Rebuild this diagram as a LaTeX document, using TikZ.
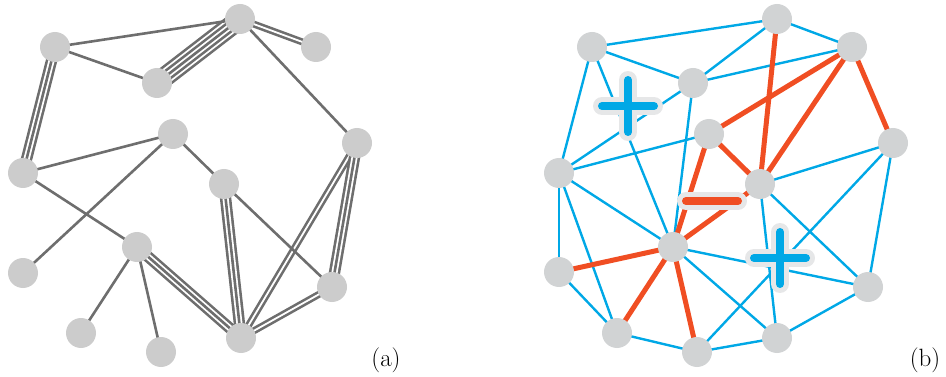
\documentclass[tikz,border=0pt]{standalone}
\definecolor{eg}{HTML}{6E6E6E}
\definecolor{nodeA}{HTML}{CCCCCC}
\definecolor{nodeB}{HTML}{D1D3D4}
\definecolor{eblue}{HTML}{00A8E6}
\definecolor{ered}{HTML}{F04E23}
\definecolor{halo}{HTML}{E6E7E8}
\pgfdeclarelayer{bg}
\pgfsetlayers{bg,main}
\begin{document}
\begin{tikzpicture}[x=1pt,y=-1pt,
  vtxa/.style={circle,fill=nodeA,minimum size=30pt,inner sep=0pt},
  vtxb/.style={circle,fill=nodeB,minimum size=30pt,inner sep=0pt},
  s1/.style={draw=eg,line width=2.6pt},
  s2/.style={draw=eg,line width=7.0pt,postaction={draw=white,line width=1.8pt}},
  s3/.style={draw=eg,line width=11.4pt,postaction={draw=white,line width=6.2pt},postaction={draw=eg,line width=2.6pt}},
  s5/.style={draw=eg,line width=20.2pt,postaction={draw=white,line width=15.0pt},postaction={draw=eg,line width=11.4pt},postaction={draw=white,line width=6.2pt},postaction={draw=eg,line width=2.6pt}},
  bl/.style={draw=eblue,line width=2.4pt},
  rd/.style={draw=ered,line width=5pt},
  halostroke/.style={draw=halo,line width=18pt,line cap=round},
  signstroke/.style={line width=8pt,line cap=round},
  lbl/.style={font=\fontsize{25}{30}\selectfont,anchor=base,inner sep=0pt}
]
\useasboundingbox (0,0) rectangle (946,377);
% panel (a) nodes
\node[vtxa] (a1) at (55,47) {};
\node[vtxa] (a2) at (240,19) {};
\node[vtxa] (a3) at (316,47) {};
\node[vtxa] (a4) at (157,83) {};
\node[vtxa] (a5) at (173,134) {};
\node[vtxa] (a6) at (23,173) {};
\node[vtxa] (a7) at (357,143) {};
\node[vtxa] (a8) at (224,184) {};
\node[vtxa] (a9) at (137,247) {};
\node[vtxa] (a10) at (23,273) {};
\node[vtxa] (a11) at (332,287) {};
\node[vtxa] (a12) at (81,333) {};
\node[vtxa] (a13) at (161,352) {};
\node[vtxa] (a14) at (241,338) {};
% panel (b) nodes
\node[vtxb] (b1) at (592,47) {};
\node[vtxb] (b2) at (777,19) {};
\node[vtxb] (b3) at (852,47) {};
\node[vtxb] (b4) at (693,83) {};
\node[vtxb] (b5) at (709,134) {};
\node[vtxb] (b6) at (559,173) {};
\node[vtxb] (b7) at (893,143) {};
\node[vtxb] (b8) at (760,184) {};
\node[vtxb] (b9) at (673,247) {};
\node[vtxb] (b10) at (559,272) {};
\node[vtxb] (b11) at (868,287) {};
\node[vtxb] (b12) at (617,333) {};
\node[vtxb] (b13) at (697,352) {};
\node[vtxb] (b14) at (777,338) {};
\begin{pgfonlayer}{bg}
% (a) multi edges
\draw[s5] (a4.center) -- (a2.center);
\draw[s2] (a2.center) -- (a3.center);
\draw[s3] (a1.center) -- (a6.center);
\draw[s3] (a8.center) -- (a14.center);
\draw[s2] (a7.center) -- (a14.center);
\draw[s3] (a7.center) -- (a11.center);
\draw[s2] (a11.center) -- (a14.center);
\draw[s3] (a9.center) -- (a14.center);
% (a) single edges
\draw[s1] (a1.center) -- (a2.center);
\draw[s1] (a1.center) -- (a4.center);
\draw[s1] (a2.center) -- (a7.center);
\draw[s1] (a6.center) -- (a5.center);
\draw[s1] (a6.center) -- (a9.center);
\draw[s1] (a5.center) -- (a10.center);
\draw[s1] (a5.center) -- (a8.center);
\draw[s1] (a8.center) -- (a11.center);
\draw[s1] (a9.center) -- (a12.center);
\draw[s1] (a9.center) -- (a13.center);
% (b) blue edges
\draw[bl] (b1.center) -- (b2.center);
\draw[bl] (b1.center) -- (b4.center);
\draw[bl] (b2.center) -- (b4.center);
\draw[bl] (b2.center) -- (b3.center);
\draw[bl] (b4.center) -- (b3.center);
\draw[bl] (b1.center) -- (b6.center);
\draw[bl] (b1.center) -- (b9.center);
\draw[bl] (b4.center) -- (b6.center);
\draw[bl] (b4.center) -- (b9.center);
\draw[bl] (b5.center) -- (b6.center);
\draw[bl] (b6.center) -- (b9.center);
\draw[bl] (b6.center) -- (b10.center);
\draw[bl] (b6.center) -- (b12.center);
\draw[bl] (b10.center) -- (b12.center);
\draw[bl] (b12.center) -- (b13.center);
\draw[bl] (b13.center) -- (b14.center);
\draw[bl] (b14.center) -- (b11.center);
\draw[bl] (b11.center) -- (b7.center);
\draw[bl] (b7.center) -- (b8.center);
\draw[bl] (b7.center) -- (b13.center);
\draw[bl] (b8.center) -- (b14.center);
\draw[bl] (b8.center) -- (b11.center);
\draw[bl] (b9.center) -- (b11.center);
\draw[bl] (b9.center) -- (b14.center);
% (b) red edges
\draw[rd] (b2.center) -- (b8.center);
\draw[rd] (b3.center) -- (b5.center);
\draw[rd] (b3.center) -- (b8.center);
\draw[rd] (b3.center) -- (b7.center);
\draw[rd] (b5.center) -- (b8.center);
\draw[rd] (b5.center) -- (b9.center);
\draw[rd] (b8.center) -- (b9.center);
\draw[rd] (b9.center) -- (b10.center);
\draw[rd] (b9.center) -- (b12.center);
\draw[rd] (b9.center) -- (b13.center);
\end{pgfonlayer}
% signs
\draw[halostroke] (602,106) -- (654,106) (628,80) -- (628,132);
\draw[halostroke] (754,258) -- (806,258) (780,232) -- (780,284);
\draw[halostroke] (686,201) -- (738,201);
\draw[signstroke,eblue] (602,106) -- (654,106) (628,80) -- (628,132);
\draw[signstroke,eblue] (754,258) -- (806,258) (780,232) -- (780,284);
\draw[signstroke,ered] (686,201) -- (738,201);
% labels
\node[lbl] (la) at (386,366) {(a)};
\node[lbl] (lb) at (925,366) {(b)};
\end{tikzpicture}
\end{document}
